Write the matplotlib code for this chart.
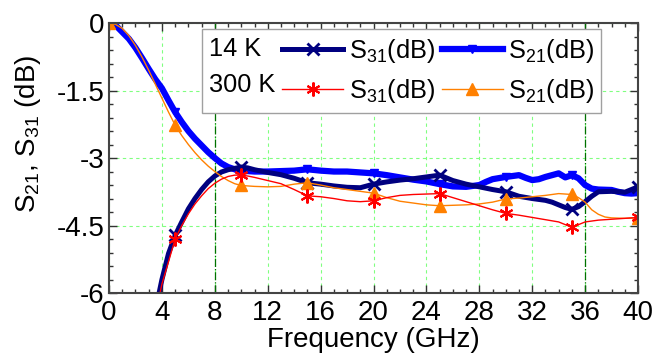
import numpy as np
import matplotlib
matplotlib.use('Agg')
import matplotlib.pyplot as plt
import matplotlib.text as mtext
from matplotlib.ticker import MultipleLocator

plt.rcParams['font.family'] = ['Liberation Sans', 'DejaVu Sans']
plt.rcParams['mathtext.fontset'] = 'custom'
plt.rcParams['mathtext.rm'] = 'Liberation Sans'
plt.rcParams['mathtext.it'] = 'Liberation Sans:italic'
plt.rcParams['axes.unicode_minus'] = False

# 14 K, S21
f_s21_14 = [0, 0.5, 1, 1.5, 2, 2.5, 3, 3.5, 4, 4.5, 5, 5.5, 6, 6.5, 7, 7.5, 8, 8.5, 9, 9.5,
            10, 11, 12, 13, 14, 15, 16, 17, 18, 19, 20, 21, 22, 23, 24, 25, 26, 27, 28, 28.5,
            29, 30, 31, 31.5, 32, 32.5, 33, 33.5, 34, 34.5, 35, 35.5, 36, 36.5, 37, 38, 38.5,
            39, 39.5, 40]
s21_14 = [0, -0.05, -0.2, -0.35, -0.55, -0.78, -1.02, -1.25, -1.45, -1.72, -1.98, -2.2,
          -2.4, -2.57, -2.72, -2.87, -3.0, -3.12, -3.2, -3.25, -3.28, -3.3, -3.3, -3.29,
          -3.28, -3.25, -3.28, -3.3, -3.3, -3.32, -3.34, -3.38, -3.43, -3.48, -3.52, -3.58,
          -3.63, -3.64, -3.6, -3.53, -3.47, -3.42, -3.38, -3.44, -3.49, -3.47, -3.42, -3.38,
          -3.34, -3.43, -3.38, -3.45, -3.6, -3.68, -3.7, -3.71, -3.75, -3.78, -3.79, -3.78]

# 14 K, S31
f_s31_14 = [3, 3.5, 4, 4.5, 5, 5.5, 6, 6.5, 7, 7.5, 8, 8.5, 9, 9.5, 10, 10.5, 11, 12, 13,
            14, 15, 16, 17, 18, 19, 20, 21, 22, 23, 24, 25, 26, 27, 28, 29, 30, 31, 32, 33,
            33.5, 34, 34.5, 35, 35.5, 36, 36.5, 37, 38, 39, 39.5, 40]
s31_14 = [-7.5, -6.4, -5.7, -5.12, -4.72, -4.42, -4.13, -3.9, -3.7, -3.53, -3.4, -3.31,
          -3.26, -3.23, -3.2, -3.22, -3.26, -3.32, -3.37, -3.45, -3.55, -3.58, -3.62, -3.65,
          -3.66, -3.58, -3.53, -3.49, -3.46, -3.42, -3.38, -3.5, -3.58, -3.64, -3.7, -3.75,
          -3.85, -3.9, -3.94, -3.98, -4.04, -4.1, -4.14, -4.08, -3.97, -3.85, -3.75, -3.74,
          -3.76, -3.7, -3.64]

# 300 K, S21
f_s21_300 = [0, 0.5, 1, 1.5, 2, 2.5, 3, 3.5, 4, 4.5, 5, 5.5, 6, 6.5, 7, 7.5, 8, 8.5, 9,
             9.5, 10, 11, 12, 13, 14, 15, 16, 17, 18, 19, 20, 21, 22, 23, 24, 25, 26, 27,
             28, 29, 30, 31, 32, 33, 34, 35, 35.5, 36, 36.5, 37, 37.5, 38, 39, 40]
s21_300 = [0, -0.03, -0.12, -0.28, -0.5, -0.76, -1.05, -1.36, -1.67, -1.98, -2.27, -2.5,
           -2.7, -2.88, -3.04, -3.18, -3.3, -3.41, -3.5, -3.57, -3.61, -3.63, -3.64, -3.63,
           -3.58, -3.55, -3.6, -3.66, -3.7, -3.74, -3.78, -3.88, -3.96, -4.0, -4.04, -4.06,
           -4.05, -4.04, -4.02, -3.98, -3.91, -3.89, -3.86, -3.83, -3.79, -3.81, -3.88, -3.98,
           -4.15, -4.25, -4.31, -4.33, -4.34, -4.33]

# 300 K, S31
f_s31_300 = [3, 3.5, 4, 4.5, 5, 5.5, 6, 6.5, 7, 7.5, 8, 8.5, 9, 9.5, 10, 10.5, 11, 12, 13,
             14, 15, 16, 17, 18, 19, 20, 21, 22, 23, 24, 25, 26, 27, 28, 29, 30, 31, 32, 33,
             34, 35, 35.5, 36, 37, 38, 39, 40]
s31_300 = [-7.6, -6.5, -5.8, -5.3, -4.8, -4.5, -4.24, -4.02, -3.84, -3.68, -3.56, -3.47,
           -3.41, -3.38, -3.38, -3.4, -3.43, -3.5, -3.57, -3.7, -3.84, -3.86, -3.9, -3.95,
           -3.97, -3.95, -3.88, -3.83, -3.81, -3.8, -3.79, -3.88, -3.97, -4.06, -4.15, -4.23,
           -4.27, -4.32, -4.37, -4.42, -4.54, -4.48, -4.42, -4.38, -4.36, -4.34, -4.32]

x_ticks = np.arange(0, 41, 4)
y_ticks = [0, -1.5, -3, -4.5, -6]
y_ticklabels = ['0', '-1.5', '-3', '-4.5', '-6']


def every5(f):
  return [abs(v % 5) < 1e-9 for v in f]


class TextHandler:
  # legend "handle" that is just a piece of text (the temperature)
  def legend_artist(self, legend, orig_handle, fontsize, handlebox):
    t = mtext.Text(-handlebox.xdescent, handlebox.height / 2 - handlebox.ydescent,
                   orig_handle.get_text(), fontsize=fontsize, va='center', ha='left')
    handlebox.add_artist(t)
    return t


fig = plt.figure(figsize=(6.66, 3.6), dpi=100)
ax = fig.add_axes([0.1637, 0.186, 0.7943, 0.75])

l21_14, = ax.plot(f_s21_14, s21_14, color='#0000ff', lw=4.5, marker='v', ms=6,
                  markevery=every5(f_s21_14))
l31_14, = ax.plot(f_s31_14, s31_14, color='#000080', lw=3.6, marker='x', ms=9, mew=2,
                  markevery=every5(f_s31_14))
l21_300, = ax.plot(f_s21_300, s21_300, color='#ff8000', lw=1, marker='^', ms=8,
                   markevery=every5(f_s21_300))
l31_300, = ax.plot(f_s31_300, s31_300, color='#ff0000', lw=1, marker=(6, 2, 0), ms=10,
                   mew=1.5, markevery=every5(f_s31_300))

ax.set_xlim(0, 40)
ax.set_ylim(-6, 0)
ax.set_xticks(x_ticks)
ax.set_yticks(y_ticks)
ax.set_yticklabels(y_ticklabels)
ax.xaxis.set_minor_locator(MultipleLocator(1))
ax.yaxis.set_minor_locator(MultipleLocator(0.3))
ax.tick_params(which='both', direction='in', top=True, right=True, colors='#333333',
               labelcolor='black')
ax.tick_params(which='major', length=6, width=1, labelsize=20)
ax.tick_params(axis='x', which='major', pad=5)
ax.tick_params(axis='y', which='major', pad=3)
ax.tick_params(which='minor', length=3, width=1)
for s in ax.spines.values():
  s.set_color('#444444')
  s.set_linewidth(1.5)

ax.grid(True, which='major', color='#80ff80', ls=(0, (3, 3)), lw=0.8)
ax.set_axisbelow(True)
for xv in (8, 36):
  ax.axvline(xv, color='#007000', ls='-.', lw=0.9, zorder=1)

ax.set_xlabel('Frequency (GHz)', fontsize=20, labelpad=1)
ax.set_ylabel('S$_{21}$, S$_{31}$ (dB)', fontsize=20)
ax.yaxis.set_label_coords(-0.125, 0.589)

t14 = mtext.Text(text='14 K')
t300 = mtext.Text(text='300 K')
handles = [t14, t300, l31_14, l31_300, l21_14, l21_300]
labels = ['', '', 'S$_{31}$(dB)', 'S$_{31}$(dB)', 'S$_{21}$(dB)', 'S$_{21}$(dB)']
leg = ax.legend(handles, labels, ncol=3, loc='upper left', bbox_to_anchor=(0.175, 0.978),
                borderaxespad=0, fontsize=18.3, handlelength=2.4, handletextpad=0.2,
                columnspacing=0.28, labelspacing=0.5, borderpad=0.3, fancybox=False,
                framealpha=1, edgecolor='#a0a0a0', handler_map={mtext.Text: TextHandler()})
leg.get_frame().set_linewidth(1)

plt.savefig('out.png', dpi=100)
